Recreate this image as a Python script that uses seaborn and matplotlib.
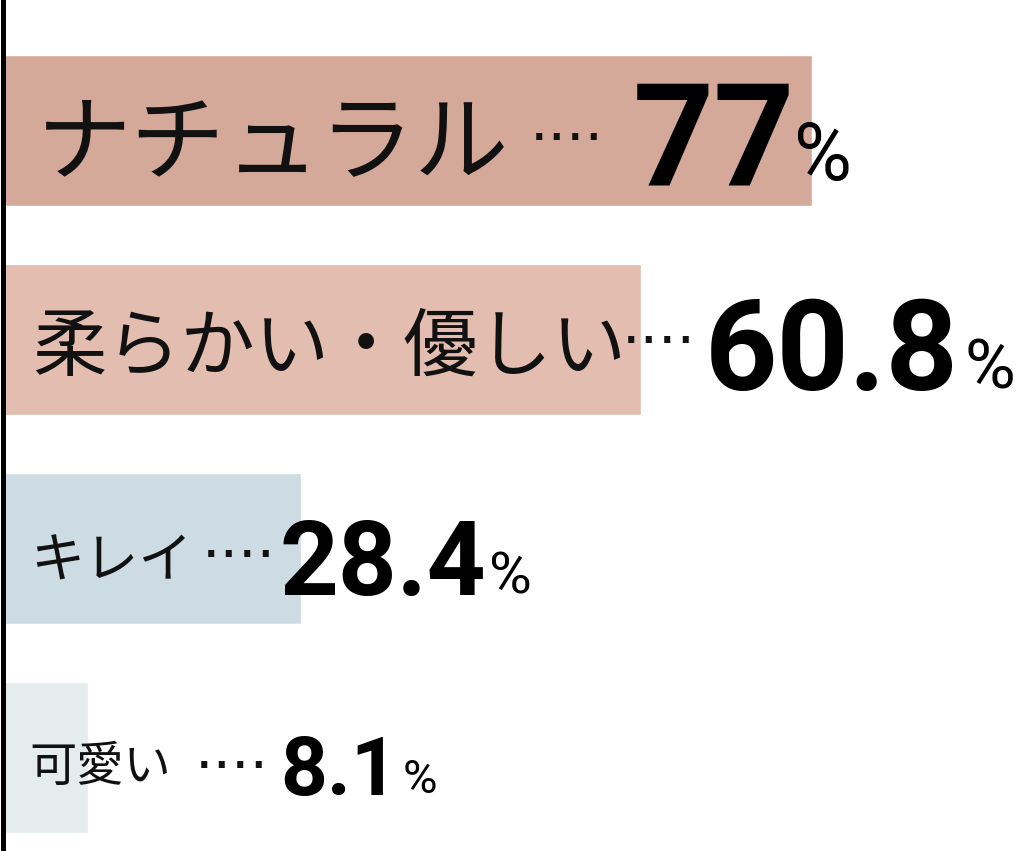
import pandas as pd
import matplotlib
matplotlib.use("Agg")
import matplotlib.pyplot as plt
import seaborn as sns

# datos
etiquetas = ['ナチュラル', '柔らかい・優しい', 'キレイ', '可愛い']
valores = [77, 60.8, 28.4, 8.1]
colores = ['#d5a999', '#e2bdb0', '#cddbe3', '#e4ecee']

df = pd.DataFrame({'label': etiquetas, 'value': valores})

sns.set_style('white')
plt.rcParams['font.family'] = ['Noto Sans CJK JP', 'DejaVu Sans']

fig = plt.figure(figsize=(10.24, 8.51), dpi=100)
ax = fig.add_axes([0, 0, 1, 1])
sns.barplot(data=df, y='label', x='value', hue='label', palette=colores,
            orient='h', width=0.72, legend=False, ax=ax, saturation=1)

# escala: 10.508 px por %, cero en x=2.5 px; filas cada 209 px
ax.set_xlim(-2.5 / 10.508, (1024 - 2.5) / 10.508)
ax.set_ylim((851 - 130.5) / 209, -130.5 / 209)
ax.set_xlabel('')
ax.set_ylabel('')
ax.set_xticks([])
ax.set_yticks([])
for s in ['top', 'right', 'bottom']:
    ax.spines[s].set_visible(False)
ax.spines['left'].set_position(('data', 0))
ax.spines['left'].set_color('black')
ax.spines['left'].set_linewidth(3.6)
ax.spines['left'].set_zorder(5)

# posiciones en px respecto al inicio de la barra / centro de la fila
PT = 0.72
size_lab = [68, 53.5, 39, 34]
size_num = [102, 91, 74, 59]
size_pct = [57, 50, 42, 34]
lab_pos = [(34, 15), (30, 8.5), (28, 14), (27, 10)]
dot_pos = [(527, 9.5), (619, 3.5), (199, 8.5), (192, 10.5)]
num_pos = [(630, 53.5), (702, 50.5), (277, 46.5), (278, 37.5)]
pct_pos = [(792, 49.5), (962, 48.5), (487, 44.5), (400, 35.5)]


def put(txt, i, pos, **kw):
    dx, dy = pos
    ax.annotate(txt, xy=(0, i), xytext=(dx * PT, -dy * PT),
                textcoords='offset points', ha='left', **kw)


for i, (lab, v) in enumerate(zip(etiquetas, valores)):
    put(lab, i, lab_pos[i], va='center', fontsize=size_lab[i],
        family=['Noto Sans CJK JP'], color='#111111')
    put('····', i, (dot_pos[i][0], dot_pos[i][1] + 17), va='baseline',
        fontsize=42, family=['DejaVu Sans'], color='#111111')
    put(f'{v:g}', i, num_pos[i], va='baseline', fontsize=size_num[i],
        family=['Roboto'], fontweight='bold', color='black')
    put('%', i, pct_pos[i], va='baseline', fontsize=size_pct[i],
        family=['Roboto'], fontweight='normal', color='black')

plt.savefig('out.png', dpi=100)
